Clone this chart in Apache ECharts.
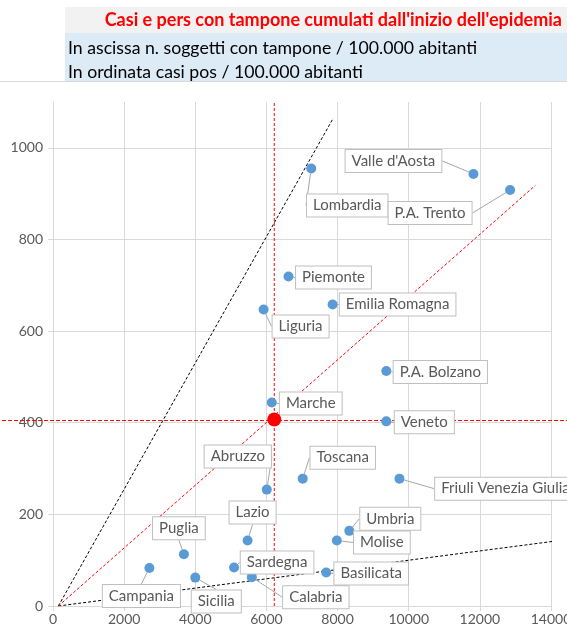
<!DOCTYPE html>
<html>
<head>
<meta charset="utf-8">
<script src="https://cdn.jsdelivr.net/npm/echarts@6/dist/echarts.min.js"></script>
<style>
html,body{margin:0;padding:0;background:#fff;}
#chart{width:567px;height:638px;}
</style>
</head>
<body>
<div id="chart"></div>
<script>
// ---- data ----
const titleText = "Casi e pers con tampone cumulati dall'inizio dell'epidemia";
const subtitle1 = "In ascissa n. soggetti con tampone / 100.000 abitanti";
const subtitle2 = "In ordinata casi pos / 100.000 abitanti";

const regions = ["Lombardia","Valle d'Aosta","P.A. Trento","Piemonte","Emilia Romagna","Liguria",
  "P.A. Bolzano","Marche","Veneto","Abruzzo","Toscana","Friuli Venezia Giulia","Umbria","Molise",
  "Basilicata","Calabria","Sardegna","Lazio","Puglia","Campania","Sicilia"];
const tested = [7260,11820,12850,6620,7860,5920,9370,6150,9370,6010,7020,9740,8330,7980,7680,5590,5090,5470,3680,2710,4000];
const cases  = [955,943,908,719,658,647,513,444,403,254,278,278,164,143,73,63,84,143,113,83,62];

const meanPoint = [6220, 407];
const steepLine = [[150,0],[7880,1065]];
const shallowLine = [[150,0],[14050,141]];
const meanSlopeLine = [[150,0],[13560,918]];
const hLineX = [-1600, 14600];

const xTicks = {min:0, max:14000, interval:2000};
const yTicks = {min:0, max:1100, interval:200};

// label offsets (layout only)
const labelOffsets = [
  [36,37],[-80,-13],[-80,23],[45,1],[65,0],[37,17],
  [54,1],[39,1],[38,1],[-29,-33],[40,-21],[106,10],[41,-12],[45,2],
  [45,1],[64,20],[43,-5],[5,-28],[-5,-26],[-8,28],[21,24]
];

const pts = regions.map((r,i)=>({name:r, value:[tested[i], cases[i]]}));

const FONT = 'Lato, "Liberation Sans", sans-serif';
const RED = '#ff0000';
const chart = echarts.init(document.getElementById('chart'), null, {renderer:'canvas'});
const dash = [3,2];
const headerGraphics = [
  {type:'rect', shape:{x:65,y:7,width:502,height:26}, style:{fill:'#f2f2f2'}, silent:true},
  {type:'rect', shape:{x:65,y:33,width:502,height:48}, style:{fill:'#ddebf7'}, silent:true},
  {type:'line', shape:{x1:0,y1:81.5,x2:567,y2:81.5}, style:{stroke:'#d9d9d9', lineWidth:1}, silent:true},
  {type:'text', x:562, y:20, style:{text:titleText, fill:'#ff0000', font:'bold 18px '+FONT, textAlign:'right', textVerticalAlign:'middle'}},
  {type:'text', x:68, y:48, style:{text:subtitle1, fill:'#000', font:'17.7px '+FONT, textAlign:'left', textVerticalAlign:'middle'}},
  {type:'text', x:68, y:72, style:{text:subtitle2, fill:'#000', font:'17.7px '+FONT, textAlign:'left', textVerticalAlign:'middle'}}
];
chart.setOption({
  animation:false,
  textStyle:{fontFamily:FONT},
  grid:{left:53, right:16, top:102, bottom:32, containLabel:false, outerBoundsMode:'none'},
  graphic:headerGraphics,
  xAxis:{type:'value', min:xTicks.min, max:xTicks.max, interval:xTicks.interval,
    axisLine:{show:true, onZero:false, lineStyle:{color:'#d9d9d9'}},
    axisTick:{show:true, length:5, lineStyle:{color:'#d9d9d9'}},
    axisLabel:{color:'#595959', fontSize:14, margin:6, fontFamily:FONT, formatter:v=>String(v)},
    splitLine:{show:true, lineStyle:{color:'#d9d9d9'}}},
  yAxis:{type:'value', min:yTicks.min, max:yTicks.max, interval:yTicks.interval,
    axisLine:{show:true, onZero:false, lineStyle:{color:'#d9d9d9'}},
    axisTick:{show:true, length:5, lineStyle:{color:'#d9d9d9'}},
    axisLabel:{color:'#595959', fontSize:14, margin:10, showMaxLabel:false, fontFamily:FONT, formatter:v=>String(v)},
    splitLine:{show:true, showMaxLine:false, lineStyle:{color:'#d9d9d9'}}},
  series:[
    {type:'line', data:steepLine, symbol:'none', color:'#000', lineStyle:{color:'#000', width:1, type:dash}, z:2},
    {type:'line', data:shallowLine, symbol:'none', color:'#000', lineStyle:{color:'#000', width:1, type:dash}, z:2},
    {type:'line', data:meanSlopeLine, symbol:'none', color:RED, lineStyle:{color:RED, width:1, type:dash}, z:2},
    {type:'line', data:[[meanPoint[0], yTicks.min],[meanPoint[0], yTicks.max]], symbol:'none', color:RED,
      lineStyle:{color:RED, width:1, type:dash}, z:2},
    {type:'scatter', data:pts, symbolSize:10, itemStyle:{color:'#5b9bd5', opacity:1}, z:4,
      label:{show:true, position:'inside', formatter:'{b}', color:'#595959', fontSize:15, fontFamily:FONT,
        backgroundColor:'#fff', borderColor:'#bfbfbf', borderWidth:1, padding:[4,6,3,6]},
      labelLine:{show:true, lineStyle:{color:'#a6a6a6', width:1}},
      labelLayout:function(p){ const o = labelOffsets[p.dataIndex]; return {dx:o[0], dy:o[1]}; }
    },
    {type:'scatter', data:[meanPoint], symbolSize:14, itemStyle:{color:RED, opacity:1}, z:7}
  ]
});
// horizontal mean line, extended past the plot area; positions converted through the axes
const pA = chart.convertToPixel({gridIndex:0}, [hLineX[0], meanPoint[1]]);
const pB = chart.convertToPixel({gridIndex:0}, [hLineX[1], meanPoint[1]]);
const hy = Math.round(pA[1]) + 0.5;
chart.setOption({graphic: headerGraphics.concat([
  {type:'line', z:3, silent:true, shape:{x1:pA[0], y1:hy, x2:pB[0], y2:hy},
   style:{stroke:RED, lineWidth:1.2, lineDash:[4,2]}}
])});
</script>
</body>
</html>
